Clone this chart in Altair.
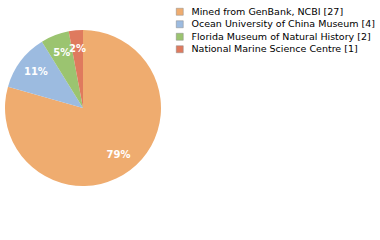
import altair as alt
import pandas as pd

sources = ["Mined from GenBank, NCBI", "Ocean University of China Museum",
           "Florida Museum of Natural History", "National Marine Science Centre"]
counts = [27, 4, 2, 1]
colors = ["#efac6f", "#9cbbe0", "#9bc470", "#df7a5e"]

total = sum(counts)
legend_labels = [f"{s} [{c}]" for s, c in zip(sources, counts)]
pct = [f"{int(100 * c / total)}%" for c in counts]
df = pd.DataFrame({"source": legend_labels, "count": counts, "pct": pct,
                   "order": list(range(len(counts)))})

CX, CY = 83, 108

base = alt.Chart(df).encode(
    theta=alt.Theta("count:Q", stack=True),
    order=alt.Order("order:Q"),
)

pie = base.mark_arc(radius=78, x=CX, y=CY, stroke=None).encode(
    color=alt.Color("source:N",
                    scale=alt.Scale(domain=legend_labels, range=colors),
                    sort=legend_labels,
                    legend=alt.Legend(title=None, orient="none", legendX=175, legendY=7,
                                      symbolType="square", symbolSize=49,
                                      symbolStrokeWidth=0.5, symbolStrokeColor="#888",
                                      labelFont="DejaVu Sans", labelFontSize=9.5,
                                      labelLimit=0,
                                      labelColor="#000", rowPadding=1.5,
                                      symbolOffset=0, labelOffset=7))
)

text = base.mark_text(radius=59, x=CX, y=CY, color="white", font="DejaVu Sans",
                      fontSize=10, fontWeight="bold").encode(text="pct:N")

chart = (pie + text).properties(
    width=380, height=240, autosize=alt.AutoSizeParams(type="none"), padding=0
).configure_view(stroke=None)

chart.save("out.html", embed_options={"renderer": "svg", "actions": False})
